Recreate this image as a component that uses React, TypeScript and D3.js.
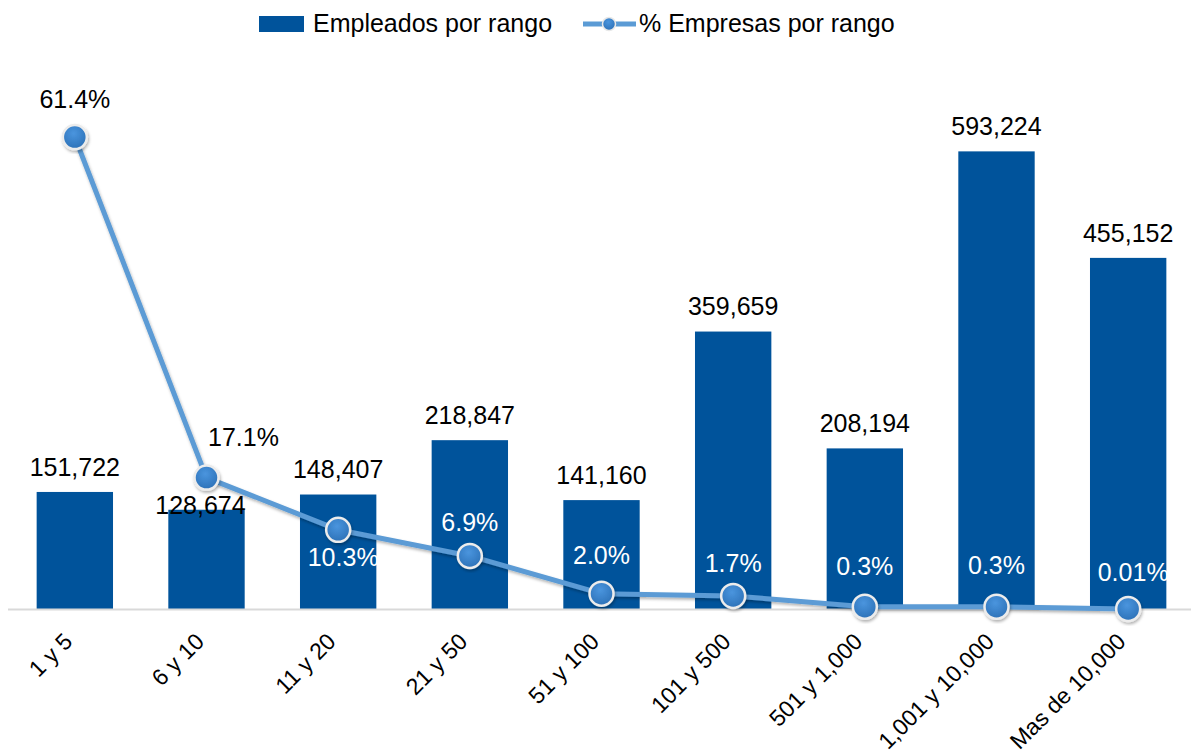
import React from "react";
import * as d3 from "d3";

const categories = ["1 y 5", "6 y 10", "11 y 20", "21 y 50", "51 y 100", "101 y 500", "501 y 1,000", "1,001 y 10,000", "Mas de 10,000"];
const empleados = [151722, 128674, 148407, 218847, 141160, 359659, 208194, 593224, 455152];
const empresasPct = [61.4, 17.1, 10.3, 6.9, 2.0, 1.7, 0.3, 0.3, 0.01];
const pctLabels = ["61.4%", "17.1%", "10.3%", "6.9%", "2.0%", "1.7%", "0.3%", "0.3%", "0.01%"];

// label placement tweaks (style)
const pctLabelOffset: [number, number, boolean][] = [
  [0, -38, false], [37, -40, false], [5, 27, true], [0, -34, true], [0, -38, true],
  [0, -33, true], [0, -40, true], [0, -41, true], [5, -37, true],
];
const barLabelOffset: [number, number][] = [
  [0, -25], [-6, -4], [0, -25], [0, -25], [0, -25], [0, -25], [0, -25], [0, -25], [0, -25],
];

const W = 1191, H = 752;
const FONT = "'Liberation Sans', Arial, sans-serif";
const FS = 25;

export default function App() {
  const x = d3.scaleBand<string>().domain(categories).range([9, 1194]).paddingInner(0.42).paddingOuter(0.21);
  const yL = d3.scaleLinear().domain([0, 700000]).range([609, 69]);
  const yR = d3.scaleLinear().domain([0, 70.25]).range([609, 69]);
  const cx = (c: string) => (x(c) ?? 0) + x.bandwidth() / 2;
  const line = d3.line<number>().x((_, i) => cx(categories[i])).y((d) => yR(d));
  const fmt = d3.format(",");

  return (
    <svg width={W} height={H} style={{ position: "absolute", left: 0, top: 0, background: "#fff" }} fontFamily={FONT}>
      <defs>
        <radialGradient id="mk" cx="45%" cy="35%" r="70%">
          <stop offset="0%" stopColor="#4a95de" />
          <stop offset="100%" stopColor="#2b6fb5" />
        </radialGradient>
        <filter id="sh" x="-20%" y="-20%" width="140%" height="140%">
          <feDropShadow dx="1" dy="2" stdDeviation="1.5" floodColor="#000" floodOpacity="0.3" />
        </filter>
      </defs>
      <rect width={W} height={H} fill="#fff" />
      {/* legend */}
      <rect x={259} y={16} width={45} height={16} fill="#00539b" />
      <text x={313} y={32} fontSize={FS} fill="#000">Empleados por rango</text>
      <line x1={583} x2={636} y1={24} y2={24} stroke="#5b9bd5" strokeWidth={5} />
      <circle cx={609} cy={24} r={6.5} fill="url(#mk)" stroke="#e8e8e8" strokeWidth={1.5} />
      <text x={639} y={32} fontSize={FS} fill="#000">% Empresas por rango</text>

      {/* bars */}
      {empleados.map((v, i) => (
        <rect key={i} x={x(categories[i])} y={yL(v)} width={x.bandwidth()} height={yL(0) - yL(v)} fill="#00539b" />
      ))}
      {/* axis */}
      <line x1={8} x2={1191} y1={609.5} y2={609.5} stroke="#d9d9d9" strokeWidth={2} />
      {/* bar labels */}
      {empleados.map((v, i) => (
        <text key={i} x={cx(categories[i]) + barLabelOffset[i][0]} y={yL(v) + barLabelOffset[i][1]} dy="0.35em"
          textAnchor="middle" fontSize={FS} fill="#000">{fmt(v)}</text>
      ))}
      {/* line */}
      <path d={line(empresasPct) ?? ""} fill="none" stroke="#5b9bd5" strokeWidth={5} strokeLinejoin="round" filter="url(#sh)" />
      {empresasPct.map((v, i) => (
        <circle key={i} cx={cx(categories[i])} cy={yR(v)} r={12} fill="url(#mk)" stroke="#ececec" strokeWidth={2.5} filter="url(#sh)" />
      ))}
      {empresasPct.map((v, i) => (
        <text key={i} x={cx(categories[i]) + pctLabelOffset[i][0]} y={yR(v) + pctLabelOffset[i][1]} dy="0.35em"
          textAnchor="middle" fontSize={FS} fill={pctLabelOffset[i][2] ? "#fff" : "#000"}>{pctLabels[i]}</text>
      ))}
      {/* x labels */}
      {categories.map((c, i) => (
        <text key={i} transform={`translate(${cx(c) - 1},${643}) rotate(-45)`} textAnchor="end"
          fontSize={23} fill="#000">{c}</text>
      ))}
    </svg>
  );
}
